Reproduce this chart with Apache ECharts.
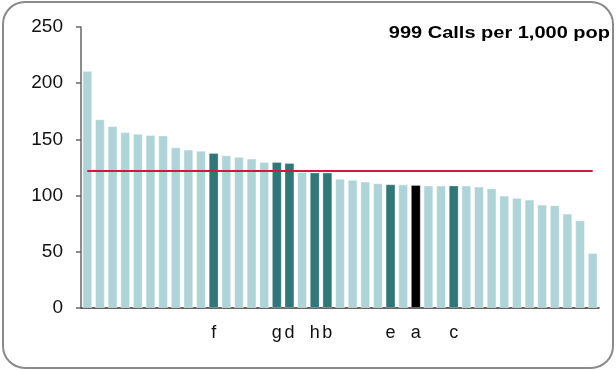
<!DOCTYPE html>
<html>
<head>
<meta charset="utf-8">
<script src="https://cdn.jsdelivr.net/npm/echarts@6/dist/echarts.min.js"></script>
<style>
  html, body { margin: 0; padding: 0; background: #fff; }
  #chart { width: 616px; height: 370px; }
</style>
</head>
<body>
<div id="chart"></div>
<script>
// Areas ranked by 999 calls per 1,000 population; lettered areas are the comparison group
const areaLabels = ['', '', '', '', '', '', '', '', '', '', 'f', '', '', '', '', 'g', 'd', '', 'h', 'b',
  '', '', '', '', 'e', '', 'a', '', '', 'c', '', '', '', '', '', '', '', '', '', '', ''];
const callsPer1000 = [211, 168, 162, 156.5, 155, 154, 153.5, 143, 141, 140, 138, 136, 134.5, 133, 130, 130, 129, 121, 120.5, 120.5,
  115, 114, 112.5, 111, 110, 110, 109.5, 109, 109, 109, 109, 108, 106.5, 100, 98, 96.5, 92, 91.5, 84, 78, 49];
const averageRate = 122;
const focusArea = 'a';
const yTicks = [0, 50, 100, 150, 200, 250];
const titleText = '999 Calls per 1,000 pop';

const LIGHT = '#AED4D7';
const DARK = '#2F7778';
const FOCUS = '#000000';
const FONT = '"Liberation Sans", Arial, sans-serif';

const chart = echarts.init(document.getElementById('chart'), null, { renderer: 'canvas' });

const barData = callsPer1000.map((v, i) => {
  const lab = areaLabels[i];
  const color = lab === focusArea ? FOCUS : (lab ? DARK : LIGHT);
  return {
    value: v,
    itemStyle: {
      color: color,
      borderColor: lab ? 'rgba(255,255,255,0.25)' : 'rgba(255,255,255,0.45)',
      borderWidth: 1
    }
  };
});

chart.setOption({
  animation: false,
  backgroundColor: '#fff',
  grid: { left: 81, right: 17, top: 27, bottom: 62, containLabel: false },
  xAxis: {
    type: 'category',
    data: areaLabels,
    axisLine: { show: true, lineStyle: { color: '#333', width: 1.5 } },
    axisTick: { show: false },
    axisLabel: {
      interval: 0,
      margin: 16,
      color: '#111',
      fontSize: 18,
      fontFamily: FONT
    }
  },
  yAxis: {
    type: 'value',
    min: yTicks[0],
    max: yTicks[yTicks.length - 1],
    interval: yTicks[1] - yTicks[0],
    splitLine: { show: false },
    axisLine: { show: true, lineStyle: { color: '#666', width: 1.5 } },
    axisTick: { show: true, length: 5, lineStyle: { color: '#666', width: 1.5 } },
    axisLabel: {
      margin: 18,
      color: '#111',
      fontSize: 19,
      fontFamily: FONT
    }
  },
  series: [{
    type: 'bar',
    data: barData,
    barCategoryGap: '22%',
    markLine: {
      silent: true,
      symbol: ['none', 'none'],
      label: { show: false },
      lineStyle: { color: '#D6163C', width: 2, type: 'solid' },
      data: [[
        { xAxis: 0, yAxis: averageRate },
        { xAxis: callsPer1000.length - 1, yAxis: averageRate }
      ]]
    }
  }],
  graphic: [
    {
      type: 'rect',
      z: 100,
      silent: true,
      shape: { x: 3, y: 2, width: 610, height: 366, r: 22 },
      style: { fill: 'none', stroke: '#8A8A8A', lineWidth: 2 }
    },
    {
      type: 'text',
      z: 100,
      x: 610,
      y: 34,
      scaleX: 1.25,
      style: {
        text: titleText,
        textAlign: 'right',
        textVerticalAlign: 'middle',
        font: 'bold 16px ' + FONT,
        fill: '#000'
      }
    }
  ]
});
</script>
</body>
</html>
